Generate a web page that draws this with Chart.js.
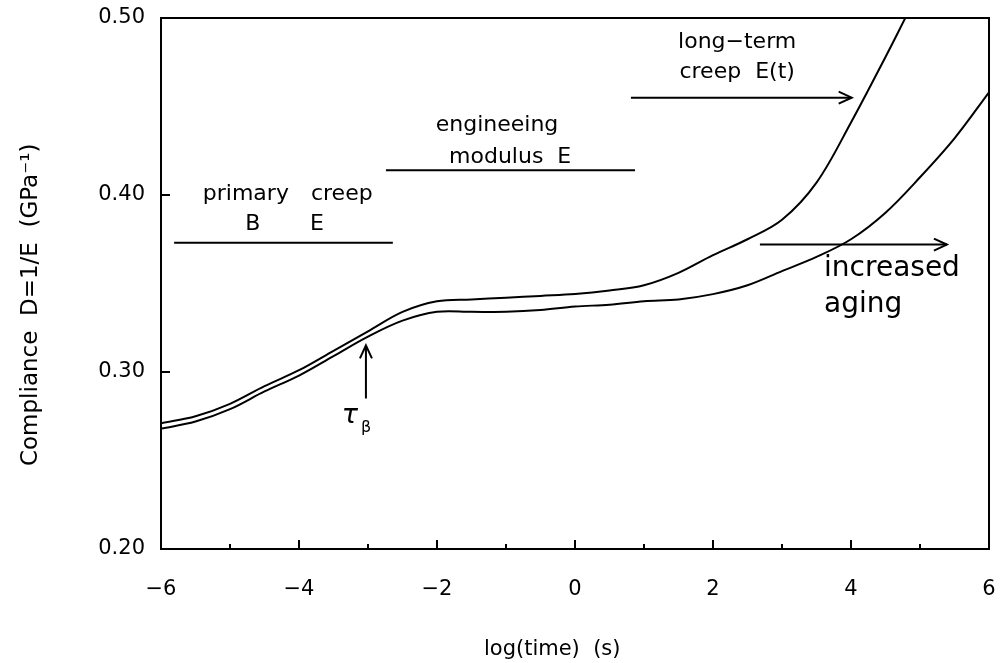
<!DOCTYPE html>
<html>
<head>
<meta charset="utf-8">
<script src="https://cdn.jsdelivr.net/npm/chart.js@4.4.1/dist/chart.umd.min.js"></script>
<style>
  html, body { margin: 0; padding: 0; background: #fff; }
  #wrap { width: 1001px; height: 663px; }
</style>
</head>
<body>
<div id="wrap"><canvas id="chart" width="1001" height="663"></canvas></div>
<script>
// log(time) positions and compliance
const timeUpper = [-6, -5.5, -5, -4.5, -4, -3.5, -3, -2.5, -2, -1.5, -1, -0.5, 0, 0.5, 1, 1.5, 2, 2.5, 3, 3.5, 4, 4.5, 4.8];
const complianceUpper = [0.271, 0.275, 0.282, 0.292, 0.301, 0.312, 0.323, 0.334, 0.340, 0.341, 0.342, 0.343, 0.344, 0.346, 0.349, 0.356, 0.366, 0.375, 0.386, 0.407, 0.441, 0.478, 0.501];

const timeLower = [-6, -5.5, -5, -4.5, -4, -3.5, -3, -2.5, -2, -1.5, -1, -0.5, 0, 0.5, 1, 1.5, 2, 2.5, 3, 3.5, 4, 4.5, 5, 5.5, 6];
const complianceLower = [0.268, 0.272, 0.279, 0.289, 0.298, 0.309, 0.320, 0.329, 0.334, 0.334, 0.334, 0.335, 0.337, 0.338, 0.340, 0.341, 0.344, 0.349, 0.357, 0.365, 0.375, 0.390, 0.410, 0.432, 0.458];

const xTickValues = [-6, -4, -2, 0, 2, 4, 6];
const yTickValues = [0.20, 0.30, 0.40, 0.50];

const xTitle = 'log(time)  (s)';
const yTitle = 'Compliance  D=1/E  (GPa\u207B\u00B9)';

const FONT = "'DejaVu Sans', sans-serif";

// box, inward ticks, axis titles and the hand-drawn notes of the figure
const notesPlugin = {
  id: 'notes',
  afterDraw(chart) {
    const ctx = chart.ctx;
    const area = chart.chartArea;
    const xs = chart.scales.x, ys = chart.scales.y;
    const X = v => xs.getPixelForValue(v);
    const Y = v => ys.getPixelForValue(v);

    ctx.save();
    ctx.strokeStyle = '#000';
    ctx.fillStyle = '#000';
    ctx.lineWidth = 2;
    ctx.strokeRect(area.left, area.top, area.right - area.left, area.bottom - area.top);

    // ticks pointing inside
    ctx.beginPath();
    for (let v = -5; v <= 5; v++) {
      const len = v % 2 === 0 ? 9 : 5;
      ctx.moveTo(X(v), area.bottom);
      ctx.lineTo(X(v), area.bottom - len);
    }
    [0.3, 0.4].forEach(v => {
      ctx.moveTo(area.left, Y(v));
      ctx.lineTo(area.left + 9, Y(v));
    });
    ctx.stroke();

    // axis titles
    ctx.font = '21px ' + FONT;
    ctx.textAlign = 'center';
    ctx.textBaseline = 'middle';
    ctx.fillText(xTitle, X(-0.33), 650);
    ctx.save();
    ctx.translate(31, Y(0.338));
    ctx.rotate(-Math.PI / 2);
    ctx.font = '23px ' + FONT;
    ctx.fillText(yTitle, 0, 0);
    ctx.restore();

    function hline(x1, x2, y) {
      ctx.beginPath();
      ctx.moveTo(X(x1), Y(y));
      ctx.lineTo(X(x2), Y(y));
      ctx.stroke();
    }
    function arrowRight(x1, x2, y) {
      hline(x1, x2, y);
      const px = X(x2), py = Y(y);
      ctx.beginPath();
      ctx.moveTo(px - 13, py - 6);
      ctx.lineTo(px, py);
      ctx.lineTo(px - 13, py + 6);
      ctx.stroke();
    }
    function text(str, x, y, size, align) {
      ctx.font = size + 'px ' + FONT;
      ctx.textAlign = align || 'center';
      ctx.textBaseline = 'alphabetic';
      ctx.fillText(str, X(x), Y(y));
    }

    // primary creep
    text('primary', -4.77, 0.397, 22);
    text('creep', -3.38, 0.397, 22);
    text('B', -4.67, 0.380, 22);
    text('E', -3.74, 0.380, 22);
    hline(-5.81, -2.64, 0.373);

    // engineering modulus
    text('engineeing', -1.13, 0.436, 22);
    text('modulus  E', -0.94, 0.418, 22);
    hline(-2.74, 0.87, 0.414);

    // long-term creep
    text('long\u2212term', 2.35, 0.483, 22);
    text('creep  E(t)', 2.35, 0.466, 22);
    arrowRight(0.81, 4.01, 0.455);

    // increased aging
    text('increased', 3.61, 0.354, 28, 'left');
    text('aging', 3.61, 0.334, 28, 'left');
    arrowRight(2.68, 5.39, 0.372);

    // tau beta arrow
    const tx = X(-3.03);
    ctx.beginPath();
    ctx.moveTo(tx, Y(0.285));
    ctx.lineTo(tx, Y(0.315));
    ctx.moveTo(tx - 6, Y(0.315) + 13);
    ctx.lineTo(tx, Y(0.315));
    ctx.lineTo(tx + 6, Y(0.315) + 13);
    ctx.stroke();
    ctx.textBaseline = 'alphabetic';
    ctx.font = 'italic 27px ' + FONT;
    ctx.textAlign = 'left';
    ctx.fillText('\u03C4', X(-3.38), Y(0.271));
    ctx.font = '16px ' + FONT;
    ctx.fillText('\u03B2', X(-3.1), Y(0.266));

    ctx.restore();
  }
};

new Chart(document.getElementById('chart'), {
  type: 'line',
  data: {
    datasets: [
      {
        data: timeUpper.map((t, i) => ({ x: t, y: complianceUpper[i] })),
        borderColor: '#000',
        borderWidth: 2,
        pointRadius: 0,
        tension: 0.35,
        fill: false
      },
      {
        data: timeLower.map((t, i) => ({ x: t, y: complianceLower[i] })),
        borderColor: '#000',
        borderWidth: 2,
        pointRadius: 0,
        tension: 0.35,
        fill: false
      }
    ]
  },
  options: {
    responsive: false,
    animation: false,
    layout: { padding: { top: 18, right: 12, left: 0, bottom: 0 } },
    plugins: {
      legend: { display: false },
      tooltip: { enabled: false }
    },
    scales: {
      x: {
        type: 'linear',
        min: -6,
        max: 6,
        afterBuildTicks: scale => { scale.ticks = xTickValues.map(v => ({ value: v })); },
        afterFit: scale => {
          scale.height = 114;
          scale.paddingLeft = 0;
          scale.paddingRight = 0;
        },
        grid: { display: false, drawTicks: false },
        border: { display: false },
        ticks: {
          color: '#000',
          padding: 28,
          maxRotation: 0,
          font: { family: FONT, size: 21 },
          callback: v => (v < 0 ? '\u2212' + Math.abs(v) : String(v))
        }
      },
      y: {
        min: 0.2,
        max: 0.5,
        afterBuildTicks: scale => { scale.ticks = yTickValues.map(v => ({ value: v })); },
        afterFit: scale => {
          scale.width = 161;
          scale.paddingTop = 0;
          scale.paddingBottom = 0;
        },
        grid: { display: false, drawTicks: false },
        border: { display: false },
        ticks: {
          color: '#000',
          padding: 16,
          font: { family: FONT, size: 21 },
          callback: v => v.toFixed(2)
        }
      }
    }
  },
  plugins: [notesPlugin]
});
</script>
</body>
</html>
